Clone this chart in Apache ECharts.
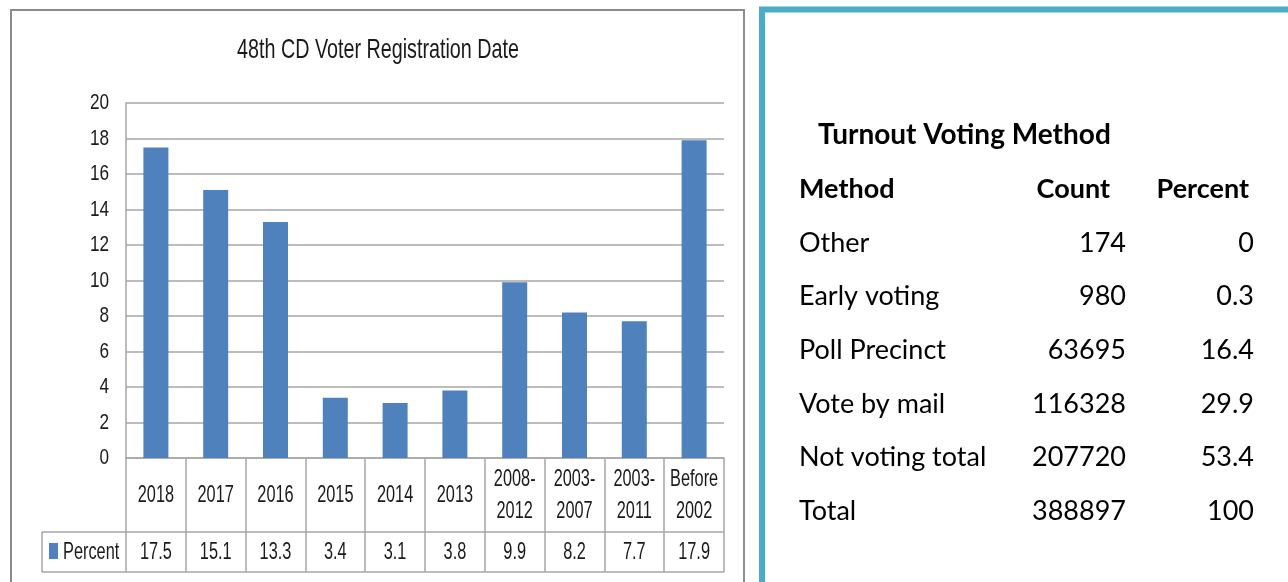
<!DOCTYPE html>
<html>
<head>
<meta charset="utf-8">
<script src="https://cdn.jsdelivr.net/npm/echarts@6/dist/echarts.min.js"></script>
<style>
    html, body { margin: 0; padding: 0; background: #fff; }
    #chart { width: 1288px; height: 582px; }
</style>
</head>
<body>
<div id="chart"></div>
<script>
    var chartFont = '"Liberation Sans", Arial, sans-serif';
    var tableFont = 'Lato, "Open Sans", sans-serif';

    // left chart data
    var seriesName = 'Percent';
    var categories = ['2018', '2017', '2016', '2015', '2014', '2013', '2008-\n2012', '2003-\n2007', '2003-\n2011', 'Before\n2002'];
    var percentValues = [17.5, 15.1, 13.3, 3.4, 3.1, 3.8, 9.9, 8.2, 7.7, 17.9];
    var yTicks = [0, 2, 4, 6, 8, 10, 12, 14, 16, 18, 20];

    // right table data
    var methods = ['Other', 'Early voting', 'Poll Precinct', 'Vote by mail', 'Not voting total', 'Total'];
    var counts = [174, 980, 63695, 116328, 207720, 388897];
    var percents = ['0', '0.3', '16.4', '29.9', '53.4', '100'];

    var lineColor = '#a6a6a6';
    var textColor = '#1a1a1a';
    var barColor = '#4f81bd';

    var chart = echarts.init(document.getElementById('chart'));

    chart.setOption({
        backgroundColor: '#fff',
        animation: false,
        legend: {
            data: [seriesName],
            left: 49,
            top: 543,
            padding: 0,
            itemWidth: 9,
            itemHeight: 16,
            icon: 'rect',
            selectedMode: false,
            formatter: function () { return ''; }
        },
        grid: { left: 126, right: 564, top: 103, bottom: 124, containLabel: false },
        xAxis: {
            type: 'category',
            data: categories,
            axisLine: { show: true, lineStyle: { color: lineColor, width: 1.5 } },
            axisTick: { show: true, interval: 0, length: 114, lineStyle: { color: lineColor, width: 1.5 } },
            axisLabel: { show: false }
        },
        yAxis: {
            type: 'value',
            min: yTicks[0],
            max: yTicks[yTicks.length - 1],
            interval: 2,
            axisLine: { show: true, lineStyle: { color: lineColor, width: 1.5 } },
            axisTick: { show: false },
            axisLabel: { show: false },
            splitLine: { lineStyle: { color: lineColor, width: 1.5 } }
        },
        series: [{
            name: seriesName,
            type: 'bar',
            data: percentValues,
            barWidth: 25,
            itemStyle: { color: barColor }
        }]
    });

    // condensed text helper (the original uses a narrow face)
    function label(text, x, y, align, size, squeeze) {
        return {
            type: 'text', x: x, y: y, scaleX: squeeze,
            style: { text: text, align: align || 'center', verticalAlign: 'middle', lineHeight: 32, font: size + 'px ' + chartFont, fill: textColor }
        };
    }

    var graphics = [];
    graphics.push(label('48th CD Voter Registration Date', 378, 50, 'center', 28, 0.705));

    // y tick labels
    yTicks.forEach(function (t) {
        var y = chart.convertToPixel({ yAxisIndex: 0 }, t);
        graphics.push(label(String(t), 109, y, 'right', 22, 0.78));
    });

    // category labels and data table values
    categories.forEach(function (c, i) {
        var x = chart.convertToPixel({ xAxisIndex: 0 }, i);
        graphics.push(label(c, x, 495, 'center', 24, 0.68));
        graphics.push(label(percentValues[i].toFixed(1), x, 552, 'center', 24, 0.68));
    });
    graphics.push(label(seriesName, 63, 552, 'left', 24, 0.68));

    // frames and table lines
    graphics.push(
        { type: 'rect', shape: { x: 11, y: 10, width: 733, height: 700 }, style: { fill: null, stroke: '#8c8c8c', lineWidth: 2 }, silent: true },
        { type: 'line', shape: { x1: 42, y1: 532, x2: 724, y2: 532 }, style: { stroke: lineColor, lineWidth: 1.5 } },
        { type: 'line', shape: { x1: 42, y1: 572, x2: 724, y2: 572 }, style: { stroke: lineColor, lineWidth: 1.5 } },
        { type: 'line', shape: { x1: 42, y1: 532, x2: 42, y2: 572 }, style: { stroke: lineColor, lineWidth: 1.5 } },
        { type: 'rect', shape: { x: 762, y: 9.5, width: 600, height: 700 }, style: { fill: null, stroke: '#4bacc6', lineWidth: 6 }, silent: true }
    );

    // right panel table
    function cell(text, x, y, align, bold, size) {
        return {
            type: 'text', x: x, y: y,
            style: { text: text, align: align, verticalAlign: 'middle', font: (bold ? 'bold ' : '') + size + 'px ' + tableFont, fill: '#000' }
        };
    }
    graphics.push(cell('Turnout Voting Method', 818, 135, 'left', true, 28));
    graphics.push(cell('Method', 799, 189, 'left', true, 27));
    graphics.push(cell('Count', 1110, 189, 'right', true, 27));
    graphics.push(cell('Percent', 1249, 189, 'right', true, 27));
    methods.forEach(function (m, i) {
        var y = 243 + i * 53.6;
        graphics.push(cell(m, 799, y, 'left', false, 27));
        graphics.push(cell(String(counts[i]), 1126, y, 'right', false, 27));
        graphics.push(cell(percents[i], 1254, y, 'right', false, 27));
    });

    chart.setOption({ graphic: graphics });
</script>
</body>
</html>
